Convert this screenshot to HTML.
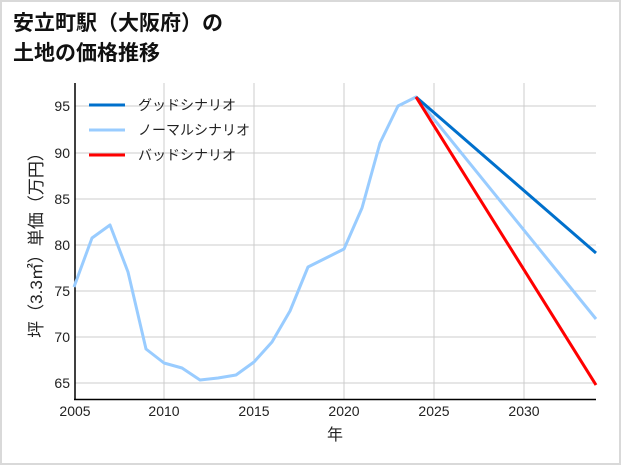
<!DOCTYPE html>
<html><head><meta charset="utf-8"><style>
body{margin:0;background:#fff}
.wrap{width:621px;height:465px;position:relative;box-sizing:border-box;border:2px solid #d9d9d9;background:#fff;overflow:hidden}
svg{position:absolute;left:-2px;top:-2px}
text{font-family:"Liberation Sans","Noto Sans CJK JP",sans-serif}
</style></head><body><div class="wrap">
<svg width="621" height="465" viewBox="0 0 621 465">
<text x="13" y="30" font-size="21" font-weight="bold" fill="#111">安立町駅（大阪府）の</text>
<text x="13" y="60" font-size="21" font-weight="bold" fill="#111">土地の価格推移</text>
<g stroke="#cccccc" stroke-width="1">
<line x1="164" y1="83" x2="164" y2="399"/><line x1="254" y1="83" x2="254" y2="399"/>
<line x1="344" y1="83" x2="344" y2="399"/><line x1="434" y1="83" x2="434" y2="399"/>
<line x1="524" y1="83" x2="524" y2="399"/>
<line x1="75" y1="106" x2="596" y2="106"/><line x1="75" y1="153" x2="596" y2="153"/>
<line x1="75" y1="199" x2="596" y2="199"/><line x1="75" y1="245" x2="596" y2="245"/>
<line x1="75" y1="291" x2="596" y2="291"/><line x1="75" y1="337" x2="596" y2="337"/>
<line x1="75" y1="383" x2="596" y2="383"/>
</g>
<g stroke="#000" stroke-width="1.5"><line x1="75" y1="83" x2="75" y2="400"/><line x1="74" y1="399.5" x2="596" y2="399.5"/></g>
<g font-size="14" fill="#222" text-anchor="end">
<text x="70" y="111">95</text><text x="70" y="158">90</text><text x="70" y="204">85</text>
<text x="70" y="250">80</text><text x="70" y="296">75</text><text x="70" y="342">70</text><text x="70" y="388">65</text>
</g>
<g font-size="14" fill="#222" text-anchor="middle">
<text x="75" y="416">2005</text><text x="164" y="416">2010</text><text x="254" y="416">2015</text>
<text x="344" y="416">2020</text><text x="434" y="416">2025</text><text x="524" y="416">2030</text>
<text x="335" y="440" font-size="16">年</text>
</g>
<text transform="translate(42,241) rotate(-90)" font-size="17" fill="#222" text-anchor="middle">坪（3.3㎡）単価（万円）</text>
<g fill="none" stroke-width="3" stroke-linejoin="round">
<polyline stroke="#99ccff" points="74,287 92,238 110,225 128,272 146,349 164,363 182,368 200,380 218,378 236,375 254,362 272,342 290,311 308,267 326,258 344,249 362,208 380,143 398,106 416,97 596,319"/>
<polyline stroke="#0070cc" points="416,97 596,253"/>
<polyline stroke="#ff0000" points="416,97 596,385"/>
</g>
<g stroke-width="3">
<line x1="89" y1="105" x2="125" y2="105" stroke="#0070cc"/>
<line x1="89" y1="130" x2="125" y2="130" stroke="#99ccff"/>
<line x1="89" y1="155" x2="125" y2="155" stroke="#ff0000"/>
</g>
<g font-size="14" fill="#222">
<text x="138" y="110">グッドシナリオ</text>
<text x="138" y="135">ノーマルシナリオ</text>
<text x="138" y="160">バッドシナリオ</text>
</g>
</svg></div></body></html>
